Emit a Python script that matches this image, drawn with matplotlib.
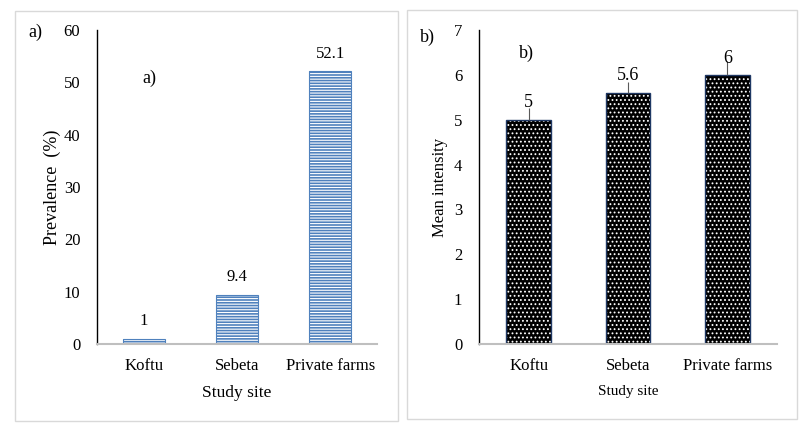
import matplotlib
matplotlib.use("Agg")
import matplotlib.pyplot as plt
from matplotlib.patches import Rectangle

plt.rcParams['font.family'] = ['Liberation Serif', 'DejaVu Serif']
plt.rcParams['hatch.linewidth'] = 0.8

sites = ["Koftu", "Sebeta", "Private farms"]
prevalence = [1, 9.4, 52.1]
prev_labels = ["1", "9.4", "52.1"]
intensity = [5, 5.6, 6]
int_labels = ["5", "5.6", "6"]
int_err = [0.27, 0.25, 0.3]

W, H = 810, 429
fig = plt.figure(figsize=(W / 100, H / 100), dpi=100)

def fx(px):
    return px / W

def fy(py):
    return 1 - py / H

# panel borders
for x0, y0, x1, y1 in [(15, 11, 398, 421), (407, 10, 797, 419)]:
    fig.patches.append(Rectangle((fx(x0), fy(y1)), fx(x1) - fx(x0), fy(y0) - fy(y1),
                                 transform=fig.transFigure, fill=False,
                                 edgecolor="#D9D9D9", linewidth=1.0))

ax1 = fig.add_axes([fx(97), fy(344), fx(377) - fx(97), fy(30) - fy(344)])
ax2 = fig.add_axes([fx(479), fy(344), fx(777) - fx(479), fy(30) - fy(344)])

x = range(len(sites))

# a) prevalence
ax1.bar(x, prevalence, width=0.45, color="#4F81BD", edgecolor="white",
        hatch="------", linewidth=0)
ax1.bar(x, prevalence, width=0.45, fill=False, edgecolor="#4F81BD", linewidth=0.8)
for i, v in enumerate(prevalence):
    ax1.annotate(prev_labels[i], (i, v), xytext=(0, 7), textcoords="offset points",
                 ha="center", va="bottom", fontsize=12)
ax1.set_ylim(0, 60)
ax1.set_yticks(range(0, 61, 10))
ax1.set_ylabel("Prevalence  (%)", fontsize=13, labelpad=2)
ax1.text(0.186, 0.847, "a)", transform=ax1.transAxes, fontsize=13, ha="center", va="center")
fig.text(fx(35), fy(32), "a)", fontsize=13, ha="center", va="center")

# b) mean intensity
ax2.bar(x, intensity, width=0.45, color="black", edgecolor="white",
        hatch="....", linewidth=0)
ax2.bar(x, intensity, width=0.45, fill=False, edgecolor="#1F3864", linewidth=1.0)
ax2.errorbar(x, intensity, yerr=[[0] * 3, int_err], fmt="none", ecolor="#595959",
             elinewidth=0.8, capsize=0)
for i, v in enumerate(intensity):
    ax2.annotate(int_labels[i], (i, v), xytext=(0, 6), textcoords="offset points",
                 ha="center", va="bottom", fontsize=13)
ax2.set_ylim(0, 7)
ax2.set_yticks(range(0, 8))
ax2.set_ylabel("Mean intensity", fontsize=12, labelpad=4)
ax2.text(0.158, 0.927, "b)", transform=ax2.transAxes, fontsize=13, ha="center", va="center")
fig.text(fx(427), fy(37), "b)", fontsize=13, ha="center", va="center")

for ax in (ax1, ax2):
    ax.set_xlim(-0.5, 2.5)
    ax.set_xticks(list(x))
    ax.set_xticklabels(sites, fontsize=12)
    ax.tick_params(axis="both", length=0, labelsize=12)
    ax.tick_params(axis="x", pad=10)
    ax.tick_params(axis="y", pad=12)
    ax.spines["top"].set_visible(False)
    ax.spines["right"].set_visible(False)
    ax.spines["left"].set_color("black")
    ax.spines["left"].set_linewidth(1.0)
    ax.spines["bottom"].set_color("#BFBFBF")
    ax.spines["bottom"].set_linewidth(1.5)

ax1.set_xlabel("Study site", fontsize=12.5, labelpad=8)
ax2.set_xlabel("Study site", fontsize=11, labelpad=8)

fig.savefig("out.png", dpi=100)
